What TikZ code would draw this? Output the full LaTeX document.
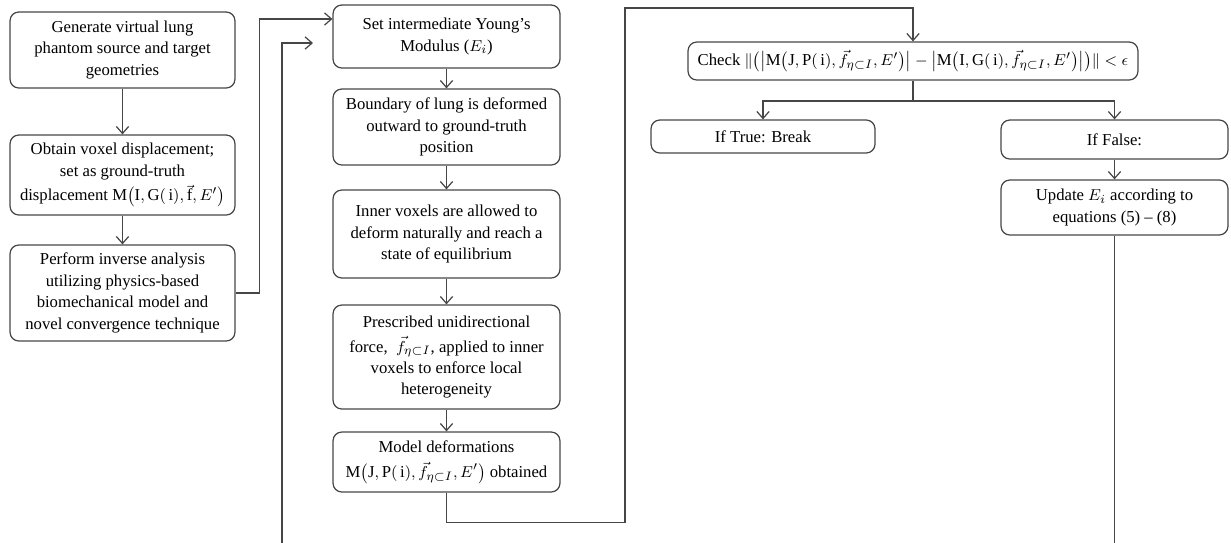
\documentclass[tikz,border=0pt]{standalone}
\usepackage{amssymb,amsmath}
\usepackage{fontspec}
\setmainfont{Liberation Serif}
\usetikzlibrary{arrows.meta}
\definecolor{linegray}{RGB}{70,70,70}
\newcommand{\fvec}{\vec{f}_{\eta\subset I}}

\begin{document}
\begin{tikzpicture}[x=0.02cm,y=-0.02cm,
  box/.style={draw=linegray,line width=0.7pt,rounded corners=5pt,align=center,
    inner sep=0pt,font=\fontsize{9.5}{12.2}\selectfont},
  flow/.style={draw=linegray,line width=0.7pt,-{Straight Barb[length=4pt,width=7pt]}},
  link/.style={draw=linegray,line width=0.7pt}]
  \useasboundingbox (0,0) rectangle (1231,542);
  \clip (0,0) rectangle (1231,542);
  % left column
  \node[box,minimum width=4.5cm,minimum height=1.52cm] (gen) at (122.5,50)
    {Generate virtual lung\\ phantom source and target\\ geometries};
  \node[box,minimum width=4.5cm,minimum height=1.6cm] (obtain) at (122.5,175)
    {Obtain voxel displacement;\\ set as ground-truth\\[2pt] displacement $\text{M}\bigl(\text{I}, \text{G}(\,\text{i}), \vec{\text{f}}, E'\bigr)$};
  \node[box,minimum width=4.5cm,minimum height=1.92cm] (perform) at (122.5,293)
    {Perform inverse analysis\\ utilizing physics-based\\ biomechanical model and\\ novel convergence technique};
  % middle column
  \node[box,minimum width=4.54cm,minimum height=1.26cm] (setE) at (446.5,36.5)
    {Set intermediate Young’s\\ Modulus ($E_i$)};
  \node[box,minimum width=4.54cm,minimum height=1.52cm] (boundary) at (446.5,127)
    {Boundary of lung is deformed\\ outward to ground-truth\\ position};
  \node[box,minimum width=4.54cm,minimum height=1.76cm] (inner) at (446.5,234)
    {Inner voxels are allowed to\\ deform naturally and reach a\\ state of equilibrium};
  \node[box,minimum width=4.54cm,minimum height=2.08cm] (force) at (446.5,357)
    {Prescribed unidirectional\\[2pt] force, \ $\fvec$, applied to inner\\ voxels to enforce local\\ heterogeneity};
  \node[box,minimum width=4.54cm,minimum height=1.2cm] (model) at (446.5,462)
    {Model deformations\\[2pt] $\text{M}\bigl(\text{J}, \text{P}(\,\text{i}), \fvec, E'\bigr)$ obtained};
  % right part
  \node[box,minimum width=9cm,minimum height=0.76cm] (check) at (913,61)
    {Check $\|\bigl(\bigl|\text{M}\bigl(\text{J}, \text{P}(\,\text{i}), \fvec, E'\bigr)\bigr| - \bigl|\text{M}\bigl(\text{I}, \text{G}(\,\text{i}), \fvec, E'\bigr)\bigr|\bigr)\| < \epsilon$};
  \node[box,minimum width=4.48cm,minimum height=0.66cm] (true) at (763,136.5)
    {If True: Break};
  \node[box,minimum width=4.54cm,minimum height=0.78cm] (false) at (1114.5,139.5)
    {If False:};
  \node[box,minimum width=4.54cm,minimum height=1.1cm] (update) at (1114.5,207.5)
    {Update $E_i$ according to\\ equations (5) – (8)};
  \coordinate (split) at (check.south |- 0,101);
  \coordinate (back) at (313,43);

  \draw[flow] (gen) -- (obtain);
  \draw[flow] (obtain) -- (perform);
  \draw[flow] (perform.east) -- ++(24,0) |- (setE.west |- 0,19);
  \draw[flow] (setE) -- (boundary);
  \draw[flow] (boundary) -- (inner);
  \draw[flow] (inner) -- (force);
  \draw[flow] (force) -- (model);
  \draw[flow] (model.south) -- ++(0,30) -| (625,8) -| (check.north);
  \draw[link] (check.south) -- (split);
  \draw[flow] (split) -| (true.north);
  \draw[flow] (split) -| (false.north);
  \draw[flow] (false) -- (update);
  %\draw[link] (update.south) -- ++(0,300);
  \draw[flow] (update.south) -- (update.south |- 0,560) -| (282,43) -- (back);
\end{tikzpicture}
\end{document}
